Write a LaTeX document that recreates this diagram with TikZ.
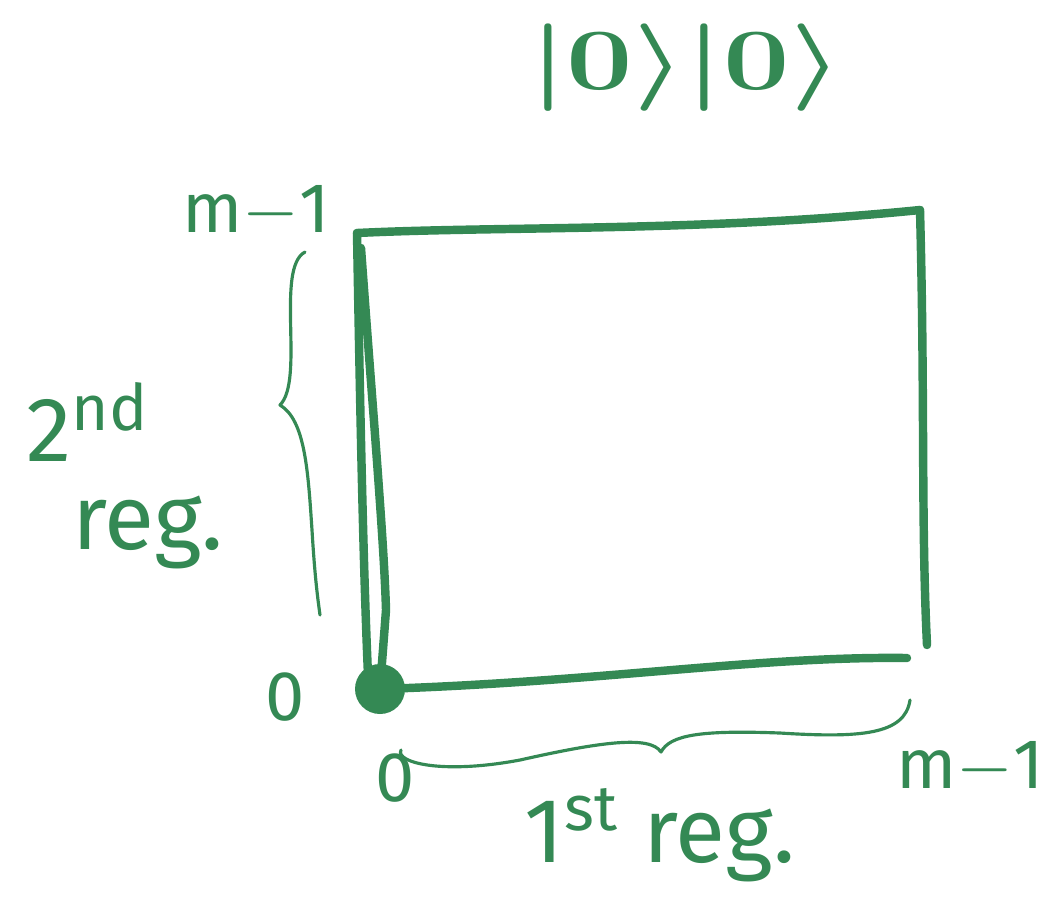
\documentclass[tikz,border=0pt]{standalone}
\usepackage{fontspec}
\setmainfont{Fira Sans}
\definecolor{pen}{RGB}{52,137,84}
\begin{document}
\begin{tikzpicture}[x=0.01cm,y=-0.01cm,
  pen/.style={draw=pen,line width=2.4pt,line cap=round,line join=round},
  penthin/.style={draw=pen,line width=0.9pt,line cap=round,line join=round},
  dotmark/.style={fill=pen},
  lbl/.style={text=pen,inner sep=0pt,font=\fontsize{26}{30}\selectfont},
  lblsmall/.style={text=pen,inner sep=0pt,font=\fontsize{20}{24}\selectfont}]
\useasboundingbox (0,0) rectangle (1048,917);
% corners
\coordinate (tl) at (357,233);
\coordinate (tr) at (920,210);
\coordinate (br) at (927,645);
\coordinate (be) at (907,658);
\coordinate (o) at (380,689);
\coordinate (l2a) at (361,248);
\coordinate (l2b) at (386,610);
\coordinate (l1e) at (368,675);
% square
\draw[pen] (tl) .. controls (500,226) and (700,232) .. (tr);
\draw[pen] (tr) .. controls (925,400) and (921,520) .. (br);
\draw[pen] (o) .. controls (600,682) and (760,656) .. (be);
\draw[pen] (tl) .. controls (360,400) and (363,560) .. (l1e);
\draw[pen] (l2a) .. controls (372,400) and (384,540) .. (l2b) -- (o);
\fill[dotmark] (o) circle (25);
% braces
\coordinate (b2s) at (305,252);
\coordinate (b2c) at (280,405);
\coordinate (b2e) at (320,615);
\draw[penthin] (b2s) .. controls (275,268) and (305,380) .. (b2c)
  .. controls (305,420) and (308,470) .. (312,530) .. controls (315,580) and (318,600) .. (b2e);
\coordinate (b1s) at (401,750);
\coordinate (b1c) at (661,752);
\coordinate (b1e) at (910,700);
\draw[penthin] (b1s) .. controls (395,762) and (440,775) .. (520,760)
  .. controls (600,742) and (650,735) .. (b1c)
  .. controls (670,735) and (700,730) .. (780,733)
  .. controls (860,738) and (905,735) .. (b1e);
% labels
\node[lbl,font=\fontsize{34}{40}\selectfont\mathversion{bold}] (ket) at (686,68) {\scalebox{1.35}[1]{$|0\rangle|0\rangle$}};
\node[lblsmall] (mtop) at (256,212) {m$-$1};
\node[lblsmall] (mright) at (970,768) {m$-$1};
\node[lblsmall] (zl) at (285,697) {0};
\node[lblsmall] (zb) at (395,778) {0};
\node[lbl] (reg2a) at (88,422) {2\textsuperscript{nd}};
\node[lbl] (reg2b) at (148,532) {reg.};
\node[lbl] (reg1) at (660,835) {1\textsuperscript{st} reg.};
\end{tikzpicture}
\end{document}
